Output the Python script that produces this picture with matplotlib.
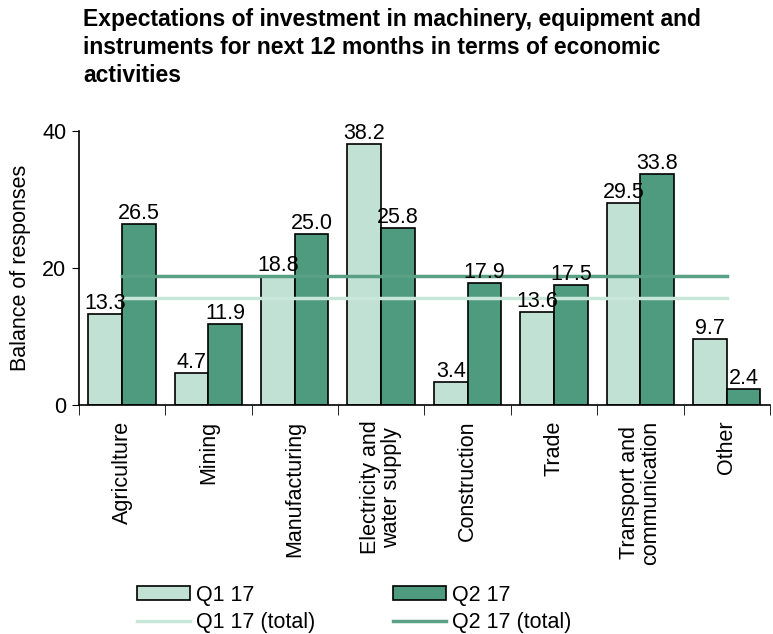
"""
Expectations of investment in machinery, equipment and instruments
"""

import numpy as np
import matplotlib.pyplot as plt

# data
categories = ["Agriculture", "Mining", "Manufacturing", "Electricity and\nwater supply",
              "Construction", "Trade", "Transport and\ncommunication", "Other"]
q1_17 = [13.3, 4.7, 18.8, 38.2, 3.4, 13.6, 29.5, 9.7]
q2_17 = [26.5, 11.9, 25.0, 25.8, 17.9, 17.5, 33.8, 2.4]
q1_total = 15.6
q2_total = 18.8
y_ticks = [0, 20, 40]


def main():
    plt.rcParams['font.family'] = ['Liberation Sans', 'DejaVu Sans']
    fs = 15.5

    light = "#c0e1d4"
    dark = "#4f9b80"

    fig = plt.figure(figsize=(7.73, 6.34), dpi=100)
    ax = fig.add_axes([0.102, 0.361, 0.894, 0.432])

    x = np.arange(len(categories))
    w = 0.39

    b1 = ax.bar(x - w / 2, q1_17, w, color=light, edgecolor="black", linewidth=1.2,
                label="Q1 17", zorder=2)
    b2 = ax.bar(x + w / 2, q2_17, w, color=dark, edgecolor="black", linewidth=1.2,
                label="Q2 17", zorder=2)

    # total lines across category centres
    l1, = ax.plot(x, [q1_total] * len(x), color="#c8e6da", linewidth=2.5, zorder=3)
    l2, = ax.plot(x, [q2_total] * len(x), color="#5aa085", linewidth=2.5, zorder=3)

    for bars in (b1, b2):
        for bar in bars:
            h = bar.get_height()
            ax.annotate(f"{h:.1f}", (bar.get_x() + bar.get_width() / 2, h),
                        xytext=(0, 0), textcoords="offset points",
                        ha="center", va="bottom", fontsize=fs, zorder=4)

    ax.set_xlim(-0.5, len(categories) - 0.5)
    ax.set_ylim(0, 40)
    ax.set_yticks(y_ticks)
    ax.tick_params(axis="y", labelsize=fs, direction="out", length=5, pad=4)
    ax.set_ylabel("Balance of responses", fontsize=fs, labelpad=8)

    ax.set_xticks(x)
    ax.set_xticklabels(categories, rotation=90, fontsize=fs, va="top", linespacing=1.0)
    ax.tick_params(axis="x", length=0, pad=11)
    ax.set_xticks(np.arange(len(categories) + 1) - 0.5, minor=True)
    ax.tick_params(axis="x", which="minor", length=7, direction="out")

    for s in ("top", "right"):
        ax.spines[s].set_visible(False)
    ax.spines["left"].set_linewidth(1.2)
    ax.spines["bottom"].set_linewidth(1.2)

    fig.text(0.108, 0.988, "Expectations of investment in machinery, equipment and\n"
             "instruments for next 12 months in terms of economic\nactivities",
             fontsize=16.5, fontweight="bold", ha="left", va="top", linespacing=1.3)

    handles = [b1, l1, b2, l2]
    labels = ["Q1 17", "Q1 17 (total)", "Q2 17", "Q2 17 (total)"]
    fig.legend(handles, labels, loc="upper left", bbox_to_anchor=(0.152, 0.108),
               ncol=2, frameon=False, fontsize=fs, handlelength=2.45, handleheight=0.6,
               columnspacing=3.6, handletextpad=0.3, labelspacing=0.3)

    fig.savefig("out.png", dpi=100)
    return 0


if __name__ == '__main__':
    main()
